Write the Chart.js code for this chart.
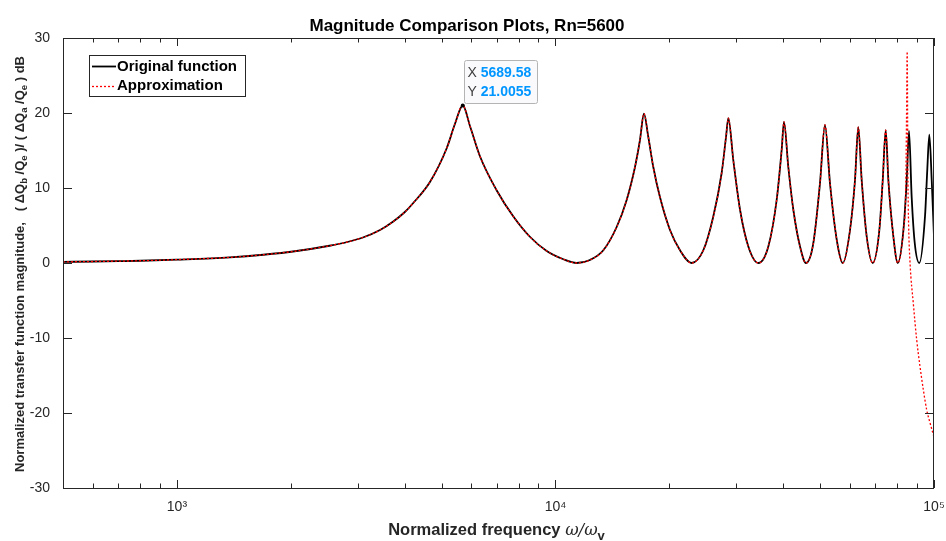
<!DOCTYPE html>
<html>
<head>
<meta charset="utf-8">
<script src="https://cdn.jsdelivr.net/npm/chart.js@4/dist/chart.umd.min.js"></script>
<style>
  html, body { margin: 0; padding: 0; background: #fff; }
  #wrap { width: 946px; height: 541px; }
</style>
</head>
<body>
<div id="wrap"><canvas id="c" width="946" height="541"></canvas></div>
<script>
// values
const freqOrig = [500, 600, 700, 800, 1000, 1380, 1690, 2070, 2530, 2820, 3100, 3440, 3720, 4000, 4210, 4660, 5160, 5430, 5690,
  5950, 6320, 6990, 7740, 8560, 9480, 10490, 11380,
  12330, 13380, 14510, 15420, 16220, 16720, 17130, 17590, 18130, 18880, 20070, 21330, 22890,
  24580, 26120, 27480, 28220, 28620, 29500, 30730, 32320, 34360,
  36500, 38400, 39590, 40150, 41220, 42500, 44260, 45900,
  47980, 49970, 51520, 53120, 55340, 57400,
  60000, 61830, 63090, 64420, 66420, 68880,
  71720, 73200, 74550, 75770, 78110, 80210,
  83030, 84700, 85900, 87300, 88930, 91460,
  94670, 95990, 97200, 98630, 100000];
const magOrig = [0.15, 0.2, 0.25, 0.3, 0.45, 0.75, 1.1, 1.6, 2.3, 2.8, 3.4, 4.4, 5.5, 6.8, 8.0, 10.8, 15.3, 18.6, 21.0,
  18.2, 14.2, 9.7, 6.2, 3.5, 1.6, 0.5, 0.0,
  0.4, 1.7, 4.8, 8.4, 12.8, 16.4, 19.9, 16.8, 12.8, 8.8, 4.4, 1.7, 0.0,
  1.7, 6.2, 12.0, 16.8, 19.3, 13.7, 7.1, 2.2, 0.0,
  2.2, 8.4, 15.1, 18.8, 12.8, 7.1, 2.2, 0.0,
  2.6, 10.6, 18.4, 10.6, 3.1, 0.0,
  4.4, 11.0, 18.1, 11.0, 3.5, 0.0,
  4.4, 11.0, 17.7, 11.0, 3.5, 0.0,
  4.4, 11.0, 17.6, 8.8, 2.7, 0.0,
  6.2, 12.4, 17.1, 11.0, 3.5];

// the approximation follows the original up to this frequency, then has its own tail
const approxSplit = 80210;
const freqApproxTail = [83030, 84200, 84600, 84950, 85300, 85700, 86440, 88180, 90030, 91840, 93720, 95660, 97600, 100000];
const magApproxTail = [4.4, 10.0, 19.0, 28.2, 12.0, 5.0, 0.0, -5.4, -10.3, -13.8, -16.9, -19.6, -21.3, -23.2];

const xTickVals = [600, 700, 800, 900, 1000, 2000, 3000, 4000, 5000, 6000, 7000, 8000, 9000, 10000,
  20000, 30000, 40000, 50000, 60000, 70000, 80000, 90000, 100000];
const yTickVals = [-30, -20, -10, 0, 10, 20, 30];
const supDigits = { 3: "\u00b3", 4: "\u2074", 5: "\u2075" };

const tipX = 5689.58;
const tipY = 21.0055;

const origPts = freqOrig.map((f, i) => ({ x: f, y: magOrig[i] }));
const approxPts = origPts.filter(p => p.x <= approxSplit)
  .concat(freqApproxTail.map((f, i) => ({ x: f, y: magApproxTail[i] })));

const axisCol = "#262626";
const fam = "'Liberation Sans', Arial, Helvetica, sans-serif";

// draw a run of text pieces, some of them sub/superscripted
function richText(ctx, parts, x, y, align) {
  let w = 0;
  parts.forEach(p => { ctx.font = p.font; w += ctx.measureText(p.t).width; });
  let cx = align === "center" ? x - w / 2 : x;
  parts.forEach(p => {
    ctx.font = p.font;
    ctx.fillStyle = p.color || "#000";
    ctx.fillText(p.t, cx, y + (p.dy || 0));
    cx += ctx.measureText(p.t).width;
  });
}

const decor = {
  id: "decor",
  afterDraw(chart) {
    const ctx = chart.ctx;
    const a = chart.chartArea;
    const xs = chart.scales.x, ys = chart.scales.y;
    ctx.save();

    // box
    ctx.strokeStyle = axisCol;
    ctx.lineWidth = 1;
    ctx.strokeRect(a.left + 0.5, a.top + 0.5, a.right - a.left - 1, a.bottom - a.top);

    // inward ticks
    ctx.beginPath();
    xTickVals.forEach(v => {
      const px = Math.round(xs.getPixelForValue(v)) + 0.5;
      const major = Math.abs(Math.log10(v) % 1) < 1e-9;
      const len = major ? 8 : 4.5;
      ctx.moveTo(px, a.bottom); ctx.lineTo(px, a.bottom - len);
      ctx.moveTo(px, a.top); ctx.lineTo(px, a.top + len);
    });
    yTickVals.forEach(v => {
      const py = Math.round(ys.getPixelForValue(v)) + 0.5;
      ctx.moveTo(a.left, py); ctx.lineTo(a.left + 9, py);
      ctx.moveTo(a.right, py); ctx.lineTo(a.right - 9, py);
    });
    ctx.stroke();

    // legend
    const lx = 89, ly = 55, lw = 156, lh = 41;
    ctx.fillStyle = "#fff";
    ctx.fillRect(lx, ly, lw, lh);
    ctx.strokeStyle = axisCol;
    ctx.strokeRect(lx + 0.5, ly + 0.5, lw, lh);
    ctx.lineWidth = 1.8;
    ctx.strokeStyle = "#000";
    ctx.beginPath(); ctx.moveTo(92, 66.5); ctx.lineTo(116, 66.5); ctx.stroke();
    ctx.lineWidth = 1.3;
    ctx.strokeStyle = "#ff0000";
    ctx.setLineDash([2, 2]);
    ctx.beginPath(); ctx.moveTo(92, 86.5); ctx.lineTo(116, 86.5); ctx.stroke();
    ctx.setLineDash([]);
    ctx.fillStyle = "#000";
    ctx.font = "bold 15px " + fam;
    ctx.textBaseline = "middle";
    ctx.textAlign = "left";
    ctx.fillText("Original function", 117, 67);
    ctx.fillText("Approximation", 117, 86);

    // data tip
    const tx = xs.getPixelForValue(tipX), ty = ys.getPixelForValue(tipY);
    ctx.fillStyle = "#000";
    ctx.beginPath(); ctx.arc(tx, ty, 2, 0, Math.PI * 2); ctx.fill();
    const bx = Math.round(tx) + 1.5, by = Math.round(ty) - 44.5, bw = 73, bh = 43;
    ctx.fillStyle = "rgba(250,250,253,0.95)";
    ctx.strokeStyle = "#b4b4b4";
    ctx.lineWidth = 1;
    ctx.beginPath();
    ctx.roundRect(bx, by, bw, bh, 2);
    ctx.fill(); ctx.stroke();
    ctx.textBaseline = "middle";
    richText(ctx, [{ t: "X ", font: "14px " + fam, color: "#404040" },
      { t: "5689.58", font: "bold 14px " + fam, color: "#0096ff" }], bx + 3, by + 12.5, "left");
    richText(ctx, [{ t: "Y ", font: "14px " + fam, color: "#404040" },
      { t: "21.0055", font: "bold 14px " + fam, color: "#0096ff" }], bx + 3, by + 31.5, "left");

    // y axis title, rotated
    ctx.translate(20, (a.top + a.bottom) / 2 + 1);
    ctx.rotate(-Math.PI / 2);
    ctx.textBaseline = "middle";
    const b13 = "bold 13px " + fam, s9 = "bold 9.5px " + fam;
    richText(ctx, [
      { t: "Normalized transfer function magnitude,   ( \u0394Q", font: b13, color: axisCol },
      { t: "b", font: s9, dy: 4, color: axisCol },
      { t: " /Q", font: b13, color: axisCol },
      { t: "e", font: s9, dy: 4, color: axisCol },
      { t: " )/ ( \u0394Q", font: b13, color: axisCol },
      { t: "a", font: s9, dy: 4, color: axisCol },
      { t: " /Q", font: b13, color: axisCol },
      { t: "e", font: s9, dy: 4, color: axisCol },
      { t: " ) dB", font: b13, color: axisCol }
    ], 0, 0, "center");
    ctx.setTransform(1, 0, 0, 1, 0, 0);

    // x axis title
    ctx.textBaseline = "alphabetic";
    const b16 = "bold 16.5px " + fam;
    richText(ctx, [
      { t: "Normalized frequency ", font: b16, color: axisCol },
      { t: "\u03c9/\u03c9", font: "italic 16.5px 'DejaVu Serif', serif", color: axisCol },
      { t: "v", font: "bold 13px " + fam, dy: 5, color: axisCol }
    ], (a.left + a.right) / 2 - 2, 535, "center");

    ctx.restore();
  }
};

new Chart(document.getElementById("c"), {
  type: "line",
  data: {
    datasets: [
      {
        label: "Original function",
        data: origPts,
        borderColor: "#000",
        borderWidth: 1.8,
        pointRadius: 0,
        cubicInterpolationMode: "monotone",
        order: 2
      },
      {
        label: "Approximation",
        data: approxPts,
        borderColor: "#ff0000",
        borderWidth: 1.3,
        borderDash: [2, 2],
        pointRadius: 0,
        cubicInterpolationMode: "monotone",
        order: 1
      }
    ]
  },
  options: {
    responsive: false,
    animation: false,
    devicePixelRatio: 1,
    layout: { padding: { left: 0, right: 12, top: 0, bottom: 0 } },
    plugins: {
      legend: { display: false },
      tooltip: { enabled: false },
      title: {
        display: true,
        text: "Magnitude Comparison Plots, Rn=5600",
        color: "#000",
        font: { family: fam, size: 17, weight: "bold" },
        padding: { top: 16.5, bottom: 1.1 }
      }
    },
    scales: {
      x: {
        type: "logarithmic",
        min: 500,
        max: 100000,
        grid: { display: false },
        border: { display: false },
        afterBuildTicks: s => { s.ticks = xTickVals.map(v => ({ value: v })); },
        afterFit: s => { s.height = 53; s.paddingLeft = 0; s.paddingRight = 0; },
        ticks: {
          autoSkip: false,
          maxRotation: 0,
          padding: 3,
          color: axisCol,
          font: { family: fam, size: 14 },
          callback: v => {
            const e = Math.round(Math.log10(v));
            return Math.abs(Math.log10(v) - e) < 1e-9 ? "10" + supDigits[e] : "";
          }
        }
      },
      y: {
        min: -30,
        max: 30,
        grid: { display: false },
        border: { display: false },
        afterFit: s => { s.width = 63; s.paddingTop = 0; s.paddingBottom = 0; },
        ticks: {
          stepSize: 10,
          padding: 5,
          color: axisCol,
          font: { family: fam, size: 14 }
        }
      }
    }
  },
  plugins: [decor]
});
</script>
</body>
</html>
